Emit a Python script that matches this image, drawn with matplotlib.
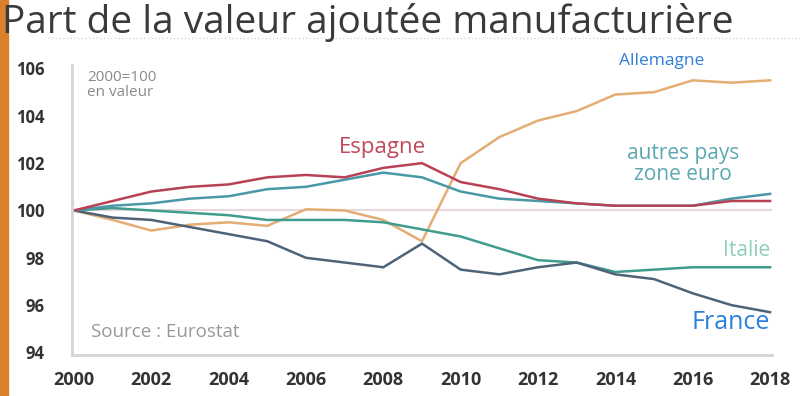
import matplotlib.pyplot as plt
import numpy as np

plt.rcParams['font.family'] = ['Open Sans', 'DejaVu Sans']

years = list(range(2000, 2019))
espagne = [100, 100.4, 100.8, 101.0, 101.1, 101.4, 101.5, 101.4, 101.8, 102.0,
           101.2, 100.9, 100.5, 100.3, 100.2, 100.2, 100.2, 100.4, 100.4]
autres = [100, 100.2, 100.3, 100.5, 100.6, 100.9, 101.0, 101.3, 101.6, 101.4,
          100.8, 100.5, 100.4, 100.3, 100.2, 100.2, 100.2, 100.5, 100.7]
allemagne = [100, 99.6, 99.15, 99.4, 99.5, 99.35, 100.05, 100.0, 99.6, 98.7,
             102.0, 103.1, 103.8, 104.2, 104.9, 105.0, 105.5, 105.4, 105.5]
italie = [100, 100.1, 100.0, 99.9, 99.8, 99.6, 99.6, 99.6, 99.5, 99.2,
          98.9, 98.4, 97.9, 97.8, 97.4, 97.5, 97.6, 97.6, 97.6]
france = [100, 99.7, 99.6, 99.3, 99.0, 98.7, 98.0, 97.8, 97.6, 98.6,
          97.5, 97.3, 97.6, 97.8, 97.3, 97.1, 96.5, 96.0, 95.7]

yticks = [94, 96, 98, 100, 102, 104, 106]
xticks = list(range(2000, 2019, 2))

fig = plt.figure(figsize=(8, 3.96), dpi=100)
ax = fig.add_axes([0.09, 0.104, 0.875, 0.732])

# bande orange a gauche
fig.patches.append(plt.Rectangle((0, 0), 0.01, 1, transform=fig.transFigure,
                                 color='#d9822b', zorder=0))

ax.axhline(100, color='#ead8dc', lw=1.5, zorder=1)
ax.plot(years, allemagne, color='#e3ad74', lw=1.8)
ax.plot(years, italie, color='#3f9c8e', lw=1.8)
ax.plot(years, france, color='#4f6378', lw=1.8)
ax.plot(years, autres, color='#4a98a6', lw=1.8)
ax.plot(years, espagne, color='#b84255', lw=1.8)

ax.set_xlim(1999.95, 2018.05)
ax.set_ylim(93.9, 106.15)
ax.set_xticks(xticks)
ax.set_yticks(yticks)
ax.tick_params(length=0, colors='#333333')
ax.tick_params(axis='y', pad=20, labelsize=12)
ax.tick_params(axis='x', pad=12, labelsize=13)
for lab in ax.get_xticklabels() + ax.get_yticklabels():
    lab.set_fontweight('bold')
for s in ['top', 'right']:
    ax.spines[s].set_visible(False)
for s in ['left', 'bottom']:
    ax.spines[s].set_color('#d5d5d5')
    ax.spines[s].set_linewidth(2)

ax.text(2000.35, 105.95, '2000=100\nen valeur', color='#8a8a8a', fontsize=11,
        va='top', linespacing=1.0)
ax.text(2000.45, 94.65, 'Source : Eurostat', color='#999999', fontsize=13.5)
ax.text(2006.85, 102.65, 'Espagne', color='#c0485a', fontsize=16, va='center')
ax.text(2015.75, 101.95, 'autres pays\nzone euro', color='#5aa8b0', fontsize=15,
        ha='center', va='center', linespacing=1.0)
ax.text(2018, 98.3, 'Italie', color='#8fcfb5', fontsize=15, ha='right', va='center')
ax.text(2014.1, 106.3, 'Allemagne', color='#2f7fd8', fontsize=12.5, va='center',
        bbox=dict(facecolor='white', edgecolor='none', pad=2))
ax.text(2018, 95.25, 'France', color='#2a7ee0', fontsize=18, ha='right', va='center')

fig.text(0.003, 0.993, 'Part de la valeur ajoutée manufacturière', fontsize=28,
         color='#3a3a3a', va='top', ha='left', fontweight='medium')
fig.add_artist(plt.Line2D([0.06, 1.0], [0.903, 0.903], transform=fig.transFigure,
                          color='#d8d8d8', lw=1, ls=':'))

fig.savefig('out.png', dpi=100)
